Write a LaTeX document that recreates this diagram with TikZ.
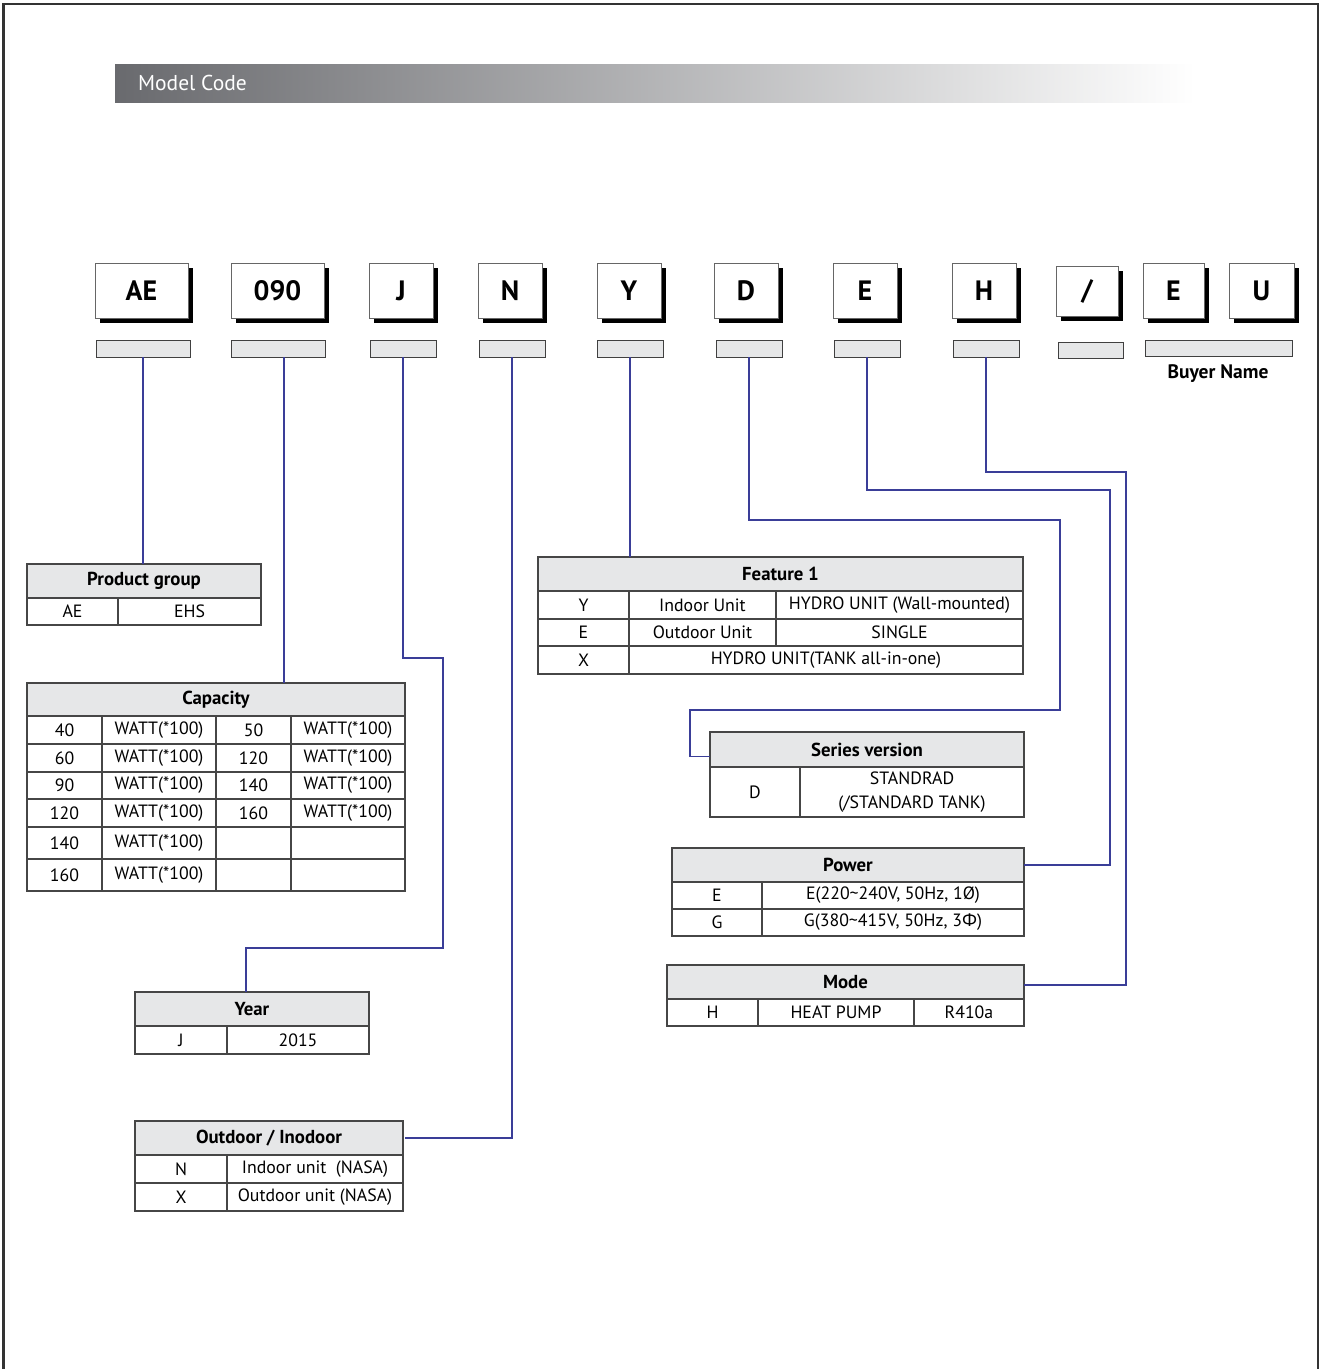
\documentclass[tikz,border=0pt]{standalone}
\usepackage{fontspec}
\setmainfont{PT Sans}
\newfontfamily\grkfont{Noto Sans}
\usetikzlibrary{shadows}
\definecolor{conncol}{RGB}{58,62,152}
\definecolor{hdrgray}{RGB}{230,231,232}
\definecolor{bordercol}{RGB}{70,70,70}
\definecolor{bardark}{RGB}{105,106,110}
\newcommand\tcell[7][]{\node[cellsty,#1,minimum width={#5-#3},minimum height={#6-#4}] (#2) at ({(#3+#5)/2},{(#4+#6)/2}) {#7};}
\begin{document}
\begin{tikzpicture}[x=1pt,y=-1pt,
  cellsty/.style={draw=bordercol,line width=1.1pt,inner sep=0pt,outer sep=0pt,align=center,font=\fontsize{17.8}{20}\selectfont,text=black},
  hdr/.style={fill=hdrgray,font=\fontsize{18.8}{20}\selectfont\bfseries},
  codebox/.style={draw=black!60,line width=0.8pt,fill=white,inner sep=0pt,outer sep=0pt,font=\fontsize{28}{30}\selectfont\bfseries,drop shadow={shadow xshift=5pt,shadow yshift=-5pt,fill=black,opacity=1}},
  slot/.style={draw=black!75,line width=1pt,fill=hdrgray,inner sep=0pt,outer sep=0pt},
  conn/.style={draw=conncol,line width=1.2pt}]
\useasboundingbox (0,0) rectangle (1322,1369);
% frame
\draw[line width=2.2pt,black!80] (3.5,1372) -- (3.5,4) -- (1318,4) -- (1318,1372);
% title bar
\shade[left color=bardark,right color=white] (115,64) rectangle (1195,102);
\node[anchor=west,text=white,inner sep=0pt,font=\fontsize{21.5}{24}\selectfont] (title) at (138,83) {Model Code};
% code boxes
\node[codebox,minimum width=93,minimum height=55] (cAE) at (141.5,290.5) {AE};
\node[codebox,minimum width=93,minimum height=55] (c090) at (277.5,290.5) {090};
\node[codebox,minimum width=64,minimum height=55] (cJ) at (401,290.5) {J};
\node[codebox,minimum width=64,minimum height=55] (cN) at (510,290.5) {N};
\node[codebox,minimum width=64,minimum height=55] (cY) at (629,290.5) {Y};
\node[codebox,minimum width=64,minimum height=55] (cD) at (746,290.5) {D};
\node[codebox,minimum width=64,minimum height=55] (cE) at (865,290.5) {E};
\node[codebox,minimum width=64,minimum height=55] (cH) at (984,290.5) {H};
\node[codebox,minimum width=62,minimum height=50] (cSl) at (1087,291) {/};
\node[codebox,minimum width=61,minimum height=55] (cE2) at (1173.5,290.5) {E};
\node[codebox,minimum width=65,minimum height=55] (cU) at (1261.5,290.5) {U};
% slots
\node[slot,minimum width=94,minimum height=17] (gAE) at (143,348.5) {};
\node[slot,minimum width=94,minimum height=17] (g090) at (278,348.5) {};
\node[slot,minimum width=66,minimum height=17] (gJ) at (403,348.5) {};
\node[slot,minimum width=66,minimum height=17] (gN) at (512,348.5) {};
\node[slot,minimum width=66,minimum height=17] (gY) at (630,348.5) {};
\node[slot,minimum width=66,minimum height=17] (gD) at (749,348.5) {};
\node[slot,minimum width=66,minimum height=17] (gE) at (867,348.5) {};
\node[slot,minimum width=66,minimum height=17] (gH) at (986,348.5) {};
\node[slot,minimum width=65,minimum height=16] (gSl) at (1090.5,350) {};
\node[slot,minimum width=147,minimum height=16] (gB) at (1218.5,348) {};
\node[font=\fontsize{19.5}{22}\selectfont\bfseries,inner sep=0pt] (buyer) at (1218,374) {Buyer Name};
% Product group
\tcell[hdr]{tPG}{27}{564}{261}{598}{Product group}
\tcell{pg1}{27}{598}{118}{625}{AE}
\tcell{pg2}{118}{598}{261}{625}{EHS}
% Capacity
\tcell[hdr]{tCap}{27}{683}{405}{716}{Capacity}
\tcell{ca11}{27}{716}{102}{744}{40}
\tcell{ca12}{102}{716}{216}{744}{WATT(*100)}
\tcell{ca13}{216}{716}{291}{744}{50}
\tcell{ca14}{291}{716}{405}{744}{WATT(*100)}
\tcell{ca21}{27}{744}{102}{772}{60}
\tcell{ca22}{102}{744}{216}{772}{WATT(*100)}
\tcell{ca23}{216}{744}{291}{772}{120}
\tcell{ca24}{291}{744}{405}{772}{WATT(*100)}
\tcell{ca31}{27}{772}{102}{799}{90}
\tcell{ca32}{102}{772}{216}{799}{WATT(*100)}
\tcell{ca33}{216}{772}{291}{799}{140}
\tcell{ca34}{291}{772}{405}{799}{WATT(*100)}
\tcell{ca41}{27}{799}{102}{827}{120}
\tcell{ca42}{102}{799}{216}{827}{WATT(*100)}
\tcell{ca43}{216}{799}{291}{827}{160}
\tcell{ca44}{291}{799}{405}{827}{WATT(*100)}
\tcell{ca51}{27}{827}{102}{859}{140}
\tcell{ca52}{102}{827}{216}{859}{WATT(*100)}
\tcell{ca53}{216}{827}{291}{859}{}
\tcell{ca54}{291}{827}{405}{859}{}
\tcell{ca61}{27}{859}{102}{891}{160}
\tcell{ca62}{102}{859}{216}{891}{WATT(*100)}
\tcell{ca63}{216}{859}{291}{891}{}
\tcell{ca64}{291}{859}{405}{891}{}
% Year
\tcell[hdr]{tYr}{135}{992}{369}{1026}{Year}
\tcell{yr1}{135}{1026}{227}{1054}{J}
\tcell{yr2}{227}{1026}{369}{1054}{2015}
% Outdoor / Inodoor
\tcell[hdr]{tOI}{135}{1121}{403}{1155}{Outdoor / Inodoor}
\tcell{oi11}{135}{1155}{227}{1183}{N}
\tcell{oi12}{227}{1155}{403}{1183}{Indoor unit\ \ (NASA)}
\tcell{oi21}{135}{1183}{227}{1211}{X}
\tcell{oi22}{227}{1183}{403}{1211}{Outdoor unit (NASA)}
% Feature 1
\tcell[hdr]{tF1}{538}{557}{1023}{591}{Feature 1}
\tcell{f11}{538}{591}{629}{619}{Y}
\tcell{f12}{629}{591}{776}{619}{Indoor Unit}
\tcell{f13}{776}{591}{1023}{619}{HYDRO UNIT (Wall-mounted)}
\tcell{f21}{538}{619}{629}{646}{E}
\tcell{f22}{629}{619}{776}{646}{Outdoor Unit}
\tcell{f23}{776}{619}{1023}{646}{SINGLE}
\tcell{f31}{538}{646}{629}{674}{X}
\tcell{f32}{629}{646}{1023}{674}{HYDRO UNIT(TANK all-in-one)}
% Series version
\tcell[hdr]{tSV}{710}{732}{1024}{767}{Series version}
\tcell{sv1}{710}{767}{800}{817}{D}
\tcell[font=\fontsize{17.8}{24}\selectfont]{sv2}{800}{767}{1024}{817}{STANDRAD\\(/STANDARD TANK)}
% Power
\tcell[hdr]{tPW}{672}{848}{1024}{882}{Power}
\tcell{pw11}{672}{882}{762}{909}{E}
\tcell{pw12}{762}{882}{1024}{909}{E(220\textasciitilde240V, 50Hz, 1Ø)}
\tcell{pw21}{672}{909}{762}{936}{G}
\tcell{pw22}{762}{909}{1024}{936}{G(380\textasciitilde415V, 50Hz, 3{\grkfont Φ})}
% Mode
\tcell[hdr]{tMD}{667}{965}{1024}{999}{Mode}
\tcell{md1}{667}{999}{758}{1026}{H}
\tcell{md2}{758}{999}{914}{1026}{HEAT PUMP}
\tcell{md3}{914}{999}{1024}{1026}{R410a}
% connectors
\draw[conn] (gAE.south) -- (gAE.south |- tPG.north);
\draw[conn] ([xshift=6pt]g090.south) -- ([xshift=6pt]g090.south |- tCap.north);
\draw[conn] (gJ.south) |- (443,658) |- (246,948) -- (246,0 |- tYr.north);
\draw[conn] (gN.south) |- ([xshift=2pt]tOI.east);
\draw[conn] (gY.south) -- (gY.south |- tF1.north);
\draw[conn] (gD.south) |- (1060,520) |- (690,710) |- ([yshift=-7pt]tSV.west);
\draw[conn] (gE.south) |- (1110,490) |- (tPW.east);
\draw[conn] (gH.south) |- (1126,472) |- ([yshift=-3pt]tMD.east);
\end{tikzpicture}
\end{document}
